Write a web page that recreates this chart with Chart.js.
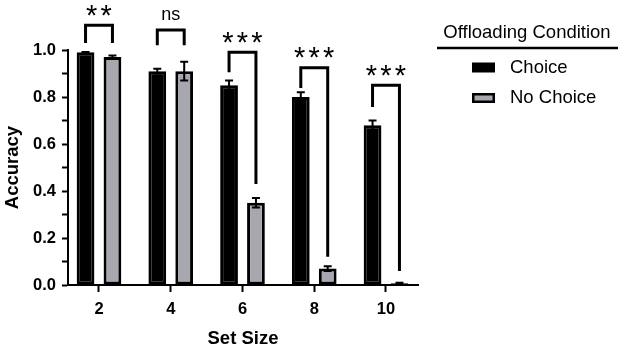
<!DOCTYPE html>
<html>
<head>
<meta charset="utf-8">
<script src="https://cdn.jsdelivr.net/npm/chart.js@4"></script>
<style>
  html, body { margin: 0; padding: 0; background: #fff; }
  #wrap { width: 624px; height: 348px; }
</style>
</head>
<body>
<div id="wrap"><canvas id="accChart" width="624" height="348"></canvas></div>
<script>
const FONT = "'Liberation Sans', Arial, sans-serif";

const setSizes = ["2", "4", "6", "8", "10"];
const choiceMean = [0.99, 0.91, 0.85, 0.80, 0.68];
const choiceErr = [0.002, 0.01, 0.02, 0.02, 0.02];
const noChoiceMean = [0.97, 0.91, 0.35, 0.07, 0.007];
const noChoiceErr = [0.007, 0.04, 0.02, 0.01, 0.003];

// significance brackets (y in accuracy units)
const sigLabels = ["**", "ns", "***", "***", "***"];
const bracketTop = [1.105, 1.085, 0.99, 0.925, 0.85];
const legLeftEnd = [1.03, 1.02, 0.905, 0.838, 0.757];
const legRightEnd = [1.03, 1.02, 0.43, 0.12, 0.06];

const legendTitle = "Offloading Condition";
const GRAY = "#a7a7af";

function toPoints(values) {
  return values.map((v, i) => ({ x: i + 1, y: v }));
}

const errorBars = {
  id: "errorBars",
  afterDatasetsDraw(chart) {
    const { ctx } = chart;
    const y = chart.scales.y;
    ctx.save();
    ctx.strokeStyle = "#000";
    ctx.lineWidth = 2;
    chart.data.datasets.forEach((ds, di) => {
      const meta = chart.getDatasetMeta(di);
      meta.data.forEach((bar, i) => {
        const m = ds.data[i].y;
        const e = ds.errors[i];
        const hi = y.getPixelForValue(m + e);
        const lo = y.getPixelForValue(Math.max(0, m - e));
        ctx.beginPath();
        ctx.moveTo(bar.x, hi);
        ctx.lineTo(bar.x, lo);
        ctx.moveTo(bar.x - 4, hi);
        ctx.lineTo(bar.x + 4, hi);
        ctx.moveTo(bar.x - 4, lo);
        ctx.lineTo(bar.x + 4, lo);
        ctx.stroke();
      });
    });
    ctx.restore();
  },
};

const brackets = {
  id: "brackets",
  afterDraw(chart) {
    const { ctx } = chart;
    const y = chart.scales.y;
    const left = chart.getDatasetMeta(0).data;
    const right = chart.getDatasetMeta(1).data;
    ctx.save();
    ctx.strokeStyle = "#000";
    ctx.fillStyle = "#000";
    ctx.lineWidth = 3;
    ctx.lineJoin = "miter";
    sigLabels.forEach((lab, i) => {
      const x1 = left[i].x;
      const x2 = right[i].x;
      const top = y.getPixelForValue(bracketTop[i]);
      ctx.beginPath();
      ctx.moveTo(x1, y.getPixelForValue(legLeftEnd[i]));
      ctx.lineTo(x1, top);
      ctx.lineTo(x2, top);
      ctx.lineTo(x2, y.getPixelForValue(legRightEnd[i]));
      ctx.stroke();

      const cx = (x1 + x2) / 2;
      const cy = top - 15;
      ctx.textAlign = "center";
      ctx.textBaseline = "alphabetic";
      if (lab === "ns") {
        ctx.font = `18px ${FONT}`;
        const m = ctx.measureText(lab);
        ctx.fillText(lab, cx, cy + (m.actualBoundingBoxAscent - m.actualBoundingBoxDescent) / 2);
      } else {
        ctx.font = `29px ${FONT}`;
        const m = ctx.measureText("*");
        const n = lab.length;
        for (let k = 0; k < n; k++) {
          const sx = cx + (k - (n - 1) / 2) * 14.5;
          ctx.fillText("*", sx, cy + (m.actualBoundingBoxAscent - m.actualBoundingBoxDescent) / 2);
        }
      }
    });
    ctx.restore();
  },
};

const sideLegend = {
  id: "sideLegend",
  afterDraw(chart) {
    const { ctx } = chart;
    ctx.save();
    ctx.fillStyle = "#000";
    ctx.font = `18.5px ${FONT}`;
    ctx.textAlign = "center";
    ctx.textBaseline = "middle";
    ctx.fillText(legendTitle, 527, 33);
    ctx.lineWidth = 2.5;
    ctx.strokeStyle = "#000";
    ctx.beginPath();
    ctx.moveTo(437, 48);
    ctx.lineTo(618, 48);
    ctx.stroke();

    ctx.textAlign = "left";
    chart.data.datasets.forEach((ds, i) => {
      const cy = 67.5 + i * 30.5;
      ctx.fillStyle = "#000";
      ctx.fillRect(472, cy - 5, 23, 10);
      ctx.fillStyle = ds.backgroundColor;
      ctx.fillRect(474.5, cy - 2.5, 18, 5);
      ctx.fillStyle = "#000";
      ctx.fillText(ds.label, 510, cy);
    });
    ctx.restore();
  },
};

function init() {
  new Chart(document.getElementById("accChart"), {
    type: "bar",
    data: {
      datasets: [
        {
          label: "Choice",
          data: toPoints(choiceMean),
          errors: choiceErr,
          backgroundColor: "#000",
          borderColor: "#000",
          borderWidth: 3,
          borderSkipped: false,
        },
        {
          label: "No Choice",
          data: toPoints(noChoiceMean),
          errors: noChoiceErr,
          backgroundColor: GRAY,
          borderColor: "#000",
          borderWidth: 3,
          borderSkipped: false,
        },
      ],
    },
    options: {
      responsive: false,
      animation: false,
      categoryPercentage: 0.75,
      barPercentage: 0.66,
      layout: { padding: { left: 0, top: 50, right: 206, bottom: 0 } },
      plugins: {
        legend: { display: false },
        tooltip: { enabled: false },
      },
      scales: {
        x: {
          type: "linear",
          offset: false,
          min: 0.568,
          max: 5.446,
          afterBuildTicks: (s) => {
            s.ticks = setSizes.map((_, i) => ({ value: i + 1 }));
          },
          afterFit: (s) => { s.height = 63; },
          ticks: {
            callback: (v) => setSizes[v - 1],
            color: "#000",
            font: { family: FONT, size: 16.5, weight: "bold" },
            padding: 8,
            maxRotation: 0,
          },
          grid: {
            offset: false,
            drawOnChartArea: false,
            tickLength: 7,
            tickColor: "#000",
            tickWidth: 2,
          },
          border: { color: "#000", width: 2 },
          title: {
            display: true,
            text: "Set Size",
            color: "#000",
            font: { family: FONT, size: 18.5, weight: "bold" },
            padding: { top: 0, bottom: -2 },
          },
        },
        y: {
          min: 0,
          max: 1,
          afterFit: (s) => { s.width = 68; },
          ticks: {
            stepSize: 0.1,
            autoSkip: false,
            callback: (v) => (Math.round(v * 10) % 2 === 0 ? v.toFixed(1) : ""),
            color: "#000",
            font: { family: FONT, size: 16.5, weight: "bold" },
            padding: 6,
          },
          grid: {
            drawOnChartArea: false,
            tickLength: 6,
            tickColor: "#000",
            tickWidth: 2,
          },
          border: { color: "#000", width: 2 },
          title: {
            display: true,
            text: "Accuracy",
            color: "#000",
            font: { family: FONT, size: 18.5, weight: "bold" },
            padding: { top: 2, bottom: 0 },
          },
        },
      },
    },
    plugins: [errorBars, brackets, sideLegend],
  });
}

window.addEventListener("load", init);
</script>
</body>
</html>
